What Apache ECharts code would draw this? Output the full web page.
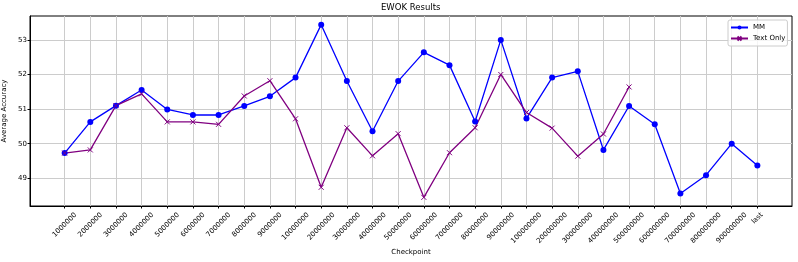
<!DOCTYPE html>
<html>
<head>
<meta charset="utf-8">
<script src="https://cdn.jsdelivr.net/npm/echarts@6/dist/echarts.min.js"></script>
<style>
  html, body { margin: 0; padding: 0; background: #fff; }
  #chart { width: 798px; height: 262px; }
</style>
</head>
<body>
<div id="chart"></div>
<script>
const categories = [
  '1000000', '2000000', '3000000', '4000000', '5000000', '6000000', '7000000', '8000000', '9000000',
  '10000000', '20000000', '30000000', '40000000', '50000000', '60000000', '70000000', '80000000', '90000000',
  '100000000', '200000000', '300000000', '400000000', '500000000', '600000000', '700000000', '800000000', '900000000',
  'last'
];
const mmValues = [
  49.73, 50.63, 51.10, 51.55, 50.99, 50.83, 50.83, 51.09, 51.37,
  51.91, 53.44, 51.81, 50.36, 51.81, 52.64, 52.27, 50.64, 53.00,
  50.73, 51.91, 52.09, 49.82, 51.09, 50.56, 48.56, 49.09, 50.00,
  49.37
];
const textOnlyValues = [
  49.73, 49.82, 51.10, 51.44, 50.63, 50.63, 50.56, 51.38, 51.82,
  50.72, 48.74, 50.46, 49.65, 50.29, 48.45, 49.74, 50.46, 52.00,
  50.90, 50.45, 49.64, 50.28, 51.64
];
const yTickValues = [49, 50, 51, 52, 53];

const FONT = 'DejaVu Sans';
const n = categories.length;
const xPad = (n - 1) * 0.05;
const xMin = -xPad, xMax = (n - 1) + xPad;
const idx = categories.map((c, i) => i);

const lengths = Array.from(new Set(categories.map(c => c.length)));
const fs = 7;
function labelMargin(txt) {
  const w = {'0':0.636,'1':0.636,'2':0.636,'3':0.636,'4':0.636,'5':0.636,'6':0.636,'7':0.636,'8':0.636,'9':0.636,'l':0.278,'a':0.613,'s':0.521,'t':0.392};
  let L = 0; for (const ch of txt) L += (w[ch] || 0.6) * fs;
  const h = fs * 1.17;
  return 5 + (L + h) * Math.SQRT1_2 / 2;
}

const xAxes = [{
  type: 'value', gridIndex: 0, position: 'bottom',
  min: xMin, max: xMax,
  axisLine: { show: true, onZero: false, lineStyle: { color: '#000', width: 1 } },
  axisTick: { show: true, length: 2.5, customValues: idx, lineStyle: { color: '#000', width: 1 } },
  axisLabel: { show: false },
  splitLine: { show: true, lineStyle: { color: '#cccccc', width: 1 } },
  name: 'Checkpoint', nameLocation: 'middle', nameGap: 43,
  nameTextStyle: { fontFamily: FONT, fontSize: 7, color: '#000' }
}];
lengths.forEach(len => {
  const vals = idx.filter(i => categories[i].length === len);
  xAxes.push({
    type: 'value', gridIndex: 0, position: 'bottom', offset: 0,
    min: xMin, max: xMax,
    axisLine: { show: false, onZero: false }, axisTick: { show: false }, splitLine: { show: false },
    axisLabel: {
      show: true, customValues: vals, rotate: 45,
      align: 'center', verticalAlign: 'middle',
      margin: labelMargin(categories[vals[0]]),
      fontFamily: FONT, fontSize: fs, color: '#000',
      formatter: v => categories[Math.round(v)]
    }
  });
});

const chart = echarts.init(document.getElementById('chart'), null, { renderer: 'canvas' });
chart.setOption({
  animation: false,
  backgroundColor: '#fff',
  title: {
    text: 'EWOK Results', left: 381, top: 3, padding: 0,
    textStyle: { fontFamily: FONT, fontSize: 8.5, fontWeight: 'normal', color: '#000' }
  },
  grid: {
    left: 30, right: 6, top: 16, bottom: 56,
    containLabel: false, outerBoundsMode: 'none',
    show: true, borderColor: '#000', borderWidth: 1, backgroundColor: 'transparent'
  },
  legend: {
    orient: 'vertical', left: 728, top: 20,
    padding: [4, 2, 4, 2], itemGap: 4, itemWidth: 17, itemHeight: 5,
    backgroundColor: 'rgba(255,255,255,0.8)', borderColor: '#cccccc', borderWidth: 1, borderRadius: 2,
    textStyle: { fontFamily: FONT, fontSize: 7, color: '#000' },
    data: ['MM', 'Text Only']
  },
  xAxis: xAxes,
  yAxis: {
    type: 'value', min: 48.2, max: 53.69, position: 'left',
    axisLine: { show: true, onZero: false, lineStyle: { color: '#000', width: 1 } },
    axisTick: { show: true, length: 2.5, customValues: yTickValues, lineStyle: { color: '#000' } },
    axisLabel: { customValues: yTickValues, margin: 3, fontFamily: FONT, fontSize: 7, color: '#000' },
    splitLine: { show: true, lineStyle: { color: '#cccccc', width: 1 } },
    name: 'Average Accuracy', nameLocation: 'middle', nameGap: 18, nameRotate: 90,
    nameTextStyle: { fontFamily: FONT, fontSize: 7, color: '#000' }
  },
  series: [
    {
      name: 'MM', type: 'line', xAxisIndex: 0,
      data: mmValues.map((v, i) => [i, v]),
      symbol: 'circle', symbolSize: 6, showAllSymbol: true,
      lineStyle: { color: '#0000ff', width: 1.3 },
      itemStyle: { color: '#0000ff', borderWidth: 0 }
    },
    {
      name: 'Text Only', type: 'line', xAxisIndex: 0,
      data: textOnlyValues.map((v, i) => [i, v]),
      symbol: 'path://M0,0L10,10M10,0L0,10', symbolSize: 5, showAllSymbol: true,
      lineStyle: { color: '#800080', width: 1.3 },
      itemStyle: { color: '#800080', borderColor: '#800080', borderWidth: 1 }
    }
  ]
});
</script>
</body>
</html>
